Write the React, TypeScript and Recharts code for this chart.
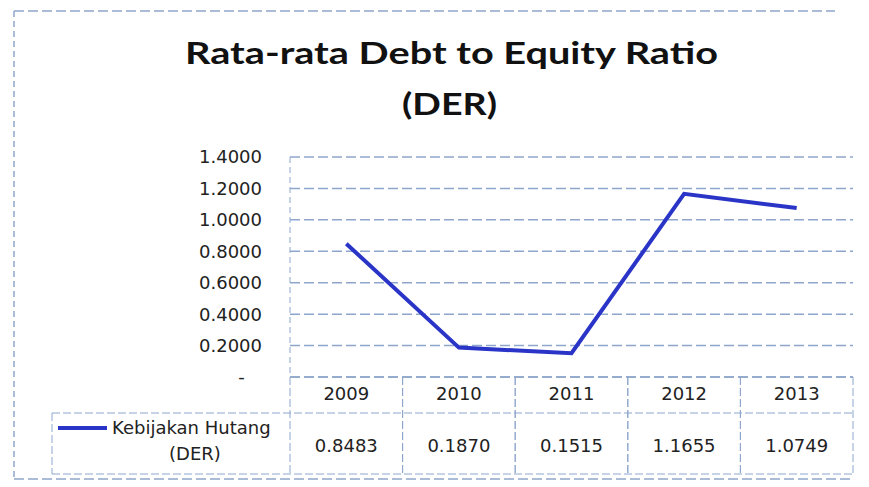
import { LineChart, Line, XAxis, YAxis, CartesianGrid } from "recharts";

const years = ["2009", "2010", "2011", "2012", "2013"];
const derValues = [0.8483, 0.187, 0.1515, 1.1655, 1.0749];
const yTicks = [0, 0.2, 0.4, 0.6, 0.8, 1.0, 1.2, 1.4];

const seriesName = "Kebijakan Hutang (DER)";
const data = years.map((year, i) => ({ year, der: derValues[i] }));

const W = 869;
const H = 487;
const PLOT_LEFT = 290;
const PLOT_RIGHT = 853;
const PLOT_TOP = 157;
const PLOT_BOTTOM = 377;
const X_AXIS_H = 30;
const HALF_CELL = (PLOT_RIGHT - PLOT_LEFT) / (years.length * 2);

const FONT = "'DejaVu Sans', Verdana, sans-serif";
const TITLE_FONT = "Lato, 'Open Sans', sans-serif";
const GRID = "#8ea6cc";
const LINE = "#2a35c8";

// year + value cells of the data table under the plot
// eslint-disable-next-line @typescript-eslint/no-explicit-any
const TableTick = ({ x, y, payload }: any) => {
    const idx = payload.index;
    return (
        <g>
            <line x1={x - HALF_CELL} x2={x - HALF_CELL} y1={y} y2={y + 98} stroke={GRID} strokeDasharray="8 3" />
            <line x1={x + HALF_CELL} x2={x + HALF_CELL} y1={y} y2={y + 98} stroke={GRID} strokeDasharray="8 3" />
            <text x={x} y={y + 18} textAnchor="middle" dominantBaseline="middle" fontSize={18} fill="#222" fontFamily={FONT}>
                {payload.value}
            </text>
            <text x={x} y={y + 70} textAnchor="middle" dominantBaseline="middle" fontSize={18} fill="#222" fontFamily={FONT}>
                {derValues[idx].toFixed(4)}
            </text>
        </g>
    );
};

export default function App() {
    return (
        <div style={{ position: "absolute", left: 0, top: 0, width: W, height: H, background: "#fff" }}>
            <LineChart
                width={W}
                height={H}
                data={data}
                margin={{ top: PLOT_TOP, right: W - PLOT_RIGHT, left: PLOT_LEFT - 64, bottom: H - PLOT_BOTTOM - X_AXIS_H }}
            >
                <CartesianGrid vertical={false} stroke={GRID} strokeWidth={1.5} strokeDasharray="10 4" />
                <XAxis
                    dataKey="year"
                    height={X_AXIS_H}
                    padding={{ left: HALF_CELL, right: HALF_CELL }}
                    axisLine={{ stroke: GRID, strokeDasharray: "10 4", strokeWidth: 1.5 }}
                    tickLine={false}
                    tickSize={0}
                    tickMargin={0}
                    interval={0}
                    tick={<TableTick />}
                />
                <YAxis
                    width={64}
                    domain={[0, 1.4]}
                    ticks={yTicks}
                    interval={0}
                    axisLine={{ stroke: GRID, strokeDasharray: "6 4" }}
                    tickLine={false}
                    tickSize={6}
                    tickMargin={22}
                    tick={{ fill: "#222", fontSize: 18, fontFamily: FONT }}
                    tickFormatter={(v: number) => (v === 0 ? "-\u00a0\u00a0\u00a0" : v.toFixed(4))}
                />
                <Line
                    type="linear"
                    dataKey="der"
                    name={seriesName}
                    stroke={LINE}
                    strokeWidth={4}
                    dot={false}
                    isAnimationActive={false}
                />
            </LineChart>
            <svg width={W} height={H} style={{ position: "absolute", left: 0, top: 0, pointerEvents: "none" }}>
                {/* chart frame */}
                <line x1={14} x2={835} y1={11} y2={11} stroke={GRID} strokeWidth={1.5} strokeDasharray="10 4" />
                <line x1={14} x2={14} y1={11} y2={479} stroke={GRID} strokeWidth={1.5} strokeDasharray="6 4" />
                <line x1={14} x2={853} y1={479} y2={479} stroke={GRID} strokeWidth={1.5} strokeDasharray="10 4" />
                {/* title */}
                <text x={185} y={64} textLength={533} lengthAdjust="spacingAndGlyphs" fontSize={31} fontWeight={700} fill="#111" fontFamily={TITLE_FONT}>
                    Rata-rata Debt to Equity Ratio
                </text>
                <text x={402} y={115} textLength={95} lengthAdjust="spacingAndGlyphs" fontSize={31} fontWeight={700} fill="#111" fontFamily={TITLE_FONT}>
                    (DER)
                </text>
                {/* table rows and legend key cell */}
                <line x1={52} x2={PLOT_RIGHT} y1={413} y2={413} stroke={GRID} strokeDasharray="8 3" />
                <line x1={52} x2={PLOT_RIGHT} y1={474} y2={474} stroke={GRID} strokeDasharray="8 3" />
                <line x1={52} x2={52} y1={413} y2={474} stroke={GRID} strokeDasharray="8 3" />
                <line x1={58} x2={107} y1={428} y2={428} stroke={LINE} strokeWidth={4} />
                <text x={112} y={429} dominantBaseline="middle" fontSize={18} fill="#222" fontFamily={FONT}>
                    Kebijakan Hutang
                </text>
                <text x={195} y={455} textAnchor="middle" dominantBaseline="middle" fontSize={18} fill="#222" fontFamily={FONT}>
                    (DER)
                </text>
            </svg>
        </div>
    );
}
